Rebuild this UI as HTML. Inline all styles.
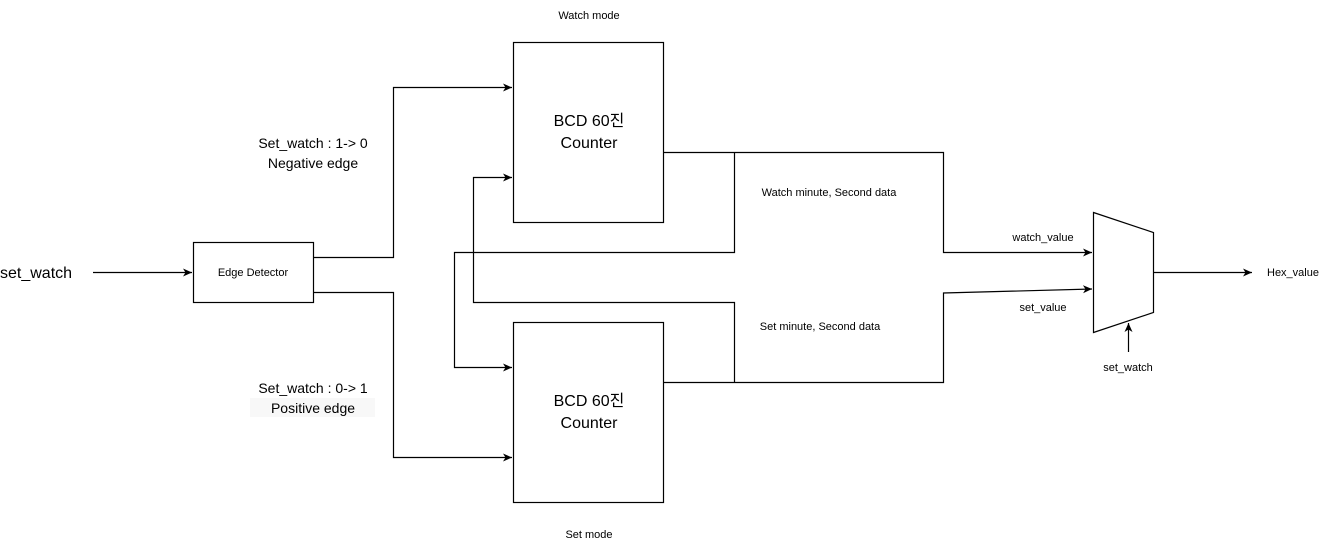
<!DOCTYPE html>
<html><head><meta charset="utf-8"><style>
html,body{margin:0;padding:0;background:#fff;}
svg{display:block;font-family:"Liberation Sans","Noto Sans CJK KR",sans-serif;}
</style></head><body>
<svg width="1333" height="550" viewBox="0 0 1333 550" xmlns="http://www.w3.org/2000/svg">
<defs><marker id="a" markerWidth="10" markerHeight="10" refX="9" refY="5" orient="auto" markerUnits="userSpaceOnUse"><path d="M0,1 L9,5 L0,9 L2.5,5 Z" fill="#000"/></marker></defs>
<g fill="none" stroke="#000" stroke-width="1.2">
<rect x="513.5" y="42.5" width="150" height="180" fill="#fff"/>
<rect x="513.5" y="322.5" width="150" height="180" fill="#fff"/>
<rect x="193.5" y="242.5" width="120" height="60" fill="#fff"/>
<path d="M93,272.5 H192" marker-end="url(#a)"/>
<path d="M313.5,257.5 H393.5 V87.5 H512" marker-end="url(#a)"/>
<path d="M313.5,292.5 H393.5 V457.5 H512" marker-end="url(#a)"/>
<path d="M663.5,152.5 H943.5 V252.5 H1092" marker-end="url(#a)"/>
<path d="M734.5,152.5 V252.5 H454.5 V367.5 H512" marker-end="url(#a)"/>
<path d="M663.5,382.5 H943.5 V293 L1092,289" marker-end="url(#a)"/>
<path d="M734.5,382.5 V302.5 H473.5 V177.5 H512" marker-end="url(#a)"/>
<polygon points="1093.5,212.5 1153.5,232.5 1153.5,312.5 1093.5,332.5" fill="#fff"/>
<path d="M1153.5,272.5 H1252" marker-end="url(#a)"/>
<path d="M1128.5,352 V323" marker-end="url(#a)"/>
</g>
<g fill="#000" text-anchor="middle">
<text x="589" y="19" font-size="11">Watch mode</text>
<text x="589" y="538" font-size="11">Set mode</text>
<text x="589" y="126" font-size="16">BCD 60진</text>
<text x="589" y="148" font-size="16">Counter</text>
<text x="589" y="406" font-size="16">BCD 60진</text>
<text x="589" y="428" font-size="16">Counter</text>
<text x="253" y="276" font-size="11">Edge Detector</text>
<text x="0" y="278" font-size="16" text-anchor="start">set_watch</text>
<text x="313" y="148" font-size="14">Set_watch : 1-&gt; 0</text>
<text x="313" y="168" font-size="14">Negative edge</text>
<rect x="250" y="398" width="125" height="19" fill="#f8f8f8"/>
<text x="313" y="393" font-size="14">Set_watch : 0-&gt; 1</text>
<text x="313" y="413" font-size="14">Positive edge</text>
<text x="829" y="196" font-size="11">Watch minute, Second data</text>
<text x="820" y="330" font-size="11">Set minute, Second data</text>
<text x="1043" y="241" font-size="11">watch_value</text>
<text x="1043" y="311" font-size="11">set_value</text>
<text x="1128" y="371" font-size="11">set_watch</text>
<text x="1293" y="276" font-size="11">Hex_value</text>
</g>
</svg>
</body></html>
